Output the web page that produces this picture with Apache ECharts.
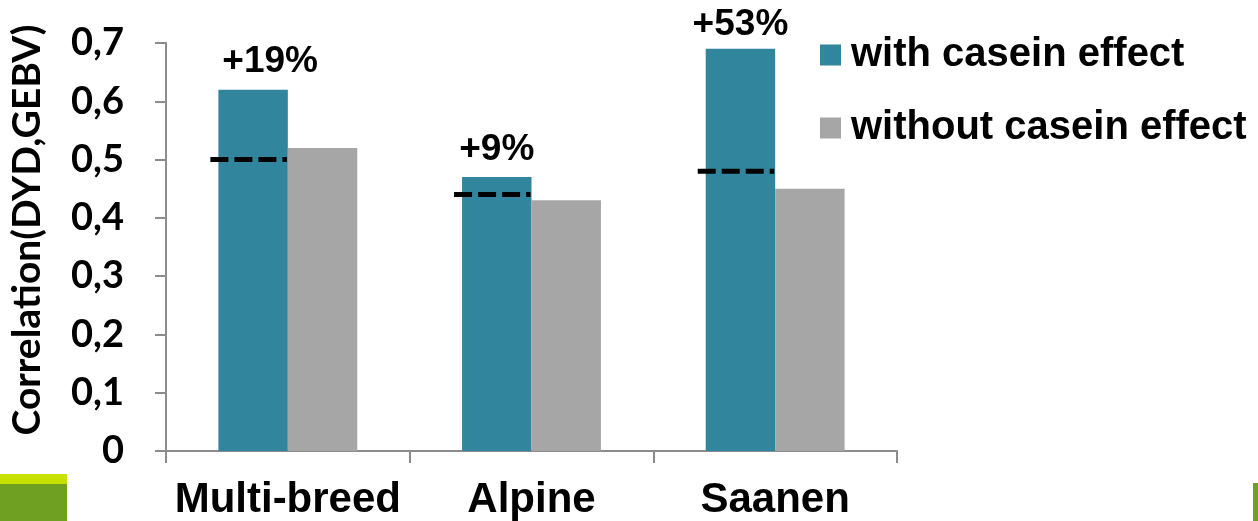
<!DOCTYPE html>
<html>
<head>
<meta charset="utf-8">
<script src="https://cdn.jsdelivr.net/npm/echarts@6/dist/echarts.min.js"></script>
<style>
  html, body { margin: 0; padding: 0; background: #ffffff; }
  #chart { width: 1258px; height: 521px; }
</style>
</head>
<body>
<div id="chart"></div>
<script>
// Breeds on the x axis
const breeds = ['Multi-breed', 'Alpine', 'Saanen'];
// Correlation between DYD and GEBV
const withCasein = [0.62, 0.47, 0.69];
const withoutCasein = [0.52, 0.43, 0.45];
// Reference level marked by the dashed line on each teal bar
const referenceLevel = [0.50, 0.44, 0.48];
// Y axis ticks
const yTicks = [0, 0.1, 0.2, 0.3, 0.4, 0.5, 0.6, 0.7];

const seriesNames = ['with casein effect', 'without casein effect'];
const TEAL = '#31859c';
const GREY = '#a6a6a6';
const CAT_GAP = 0.43;

// Relative gain of the model with the casein effect, e.g. "+19%"
const gainText = withCasein.map((v, i) =>
  '+' + Math.round((v / withoutCasein[i] - 1) * 100) + '%');

const chart = echarts.init(document.getElementById('chart'), null, { renderer: 'canvas' });

const option = {
  backgroundColor: '#ffffff',
  animation: false,
  grid: { left: 164, right: 361, top: 43, bottom: 70, containLabel: false },
  legend: {
    data: seriesNames,
    orient: 'vertical',
    left: 820,
    top: 31,
    padding: 0,
    icon: 'rect',
    itemWidth: 21,
    itemHeight: 21,
    itemGap: 25,
    selectedMode: false,
    textStyle: {
      fontFamily: '"Liberation Sans", Arial, sans-serif',
      fontWeight: 'bold',
      fontSize: 40,
      lineHeight: 40,
      color: '#000000',
      padding: [8, 0, 0, 5]
    }
  },
  xAxis: {
    type: 'category',
    data: breeds,
    axisLine: { show: true, lineStyle: { color: '#8c8c8c', width: 2 } },
    axisTick: { show: true, length: 12, lineStyle: { color: '#8c8c8c', width: 2 } },
    axisLabel: {
      interval: 0,
      hideOverlap: false,
      margin: 28,
      fontFamily: '"Liberation Sans", Arial, sans-serif',
      fontWeight: 'bold',
      fontSize: 42,
      color: '#000000'
    },
    splitLine: { show: false }
  },
  yAxis: {
    type: 'value',
    min: 0,
    max: 0.7,
    interval: 0.1,
    name: 'Correlation(DYD,GEBV)',
    nameLocation: 'middle',
    nameGap: 119,
    nameTextStyle: {
      fontFamily: 'Lato, "Open Sans", sans-serif',
      fontWeight: 'bold',
      fontSize: 39,
      color: '#000000',
      padding: [0, 0, 0, 34]
    },
    axisLine: { show: true, lineStyle: { color: '#8c8c8c', width: 2 } },
    axisTick: { show: true, length: 11, lineStyle: { color: '#8c8c8c', width: 2 } },
    splitLine: { show: false },
    axisLabel: {
      margin: 42,
      fontFamily: 'Lato, "Open Sans", sans-serif',
      fontWeight: 'bold',
      fontSize: 38,
      color: '#000000',
      customValues: yTicks,
      formatter: v => String(Math.round(v * 10) / 10).replace('.', ',')
    }
  },
  series: [
    {
      name: seriesNames[0],
      type: 'bar',
      data: withCasein.map((v, i) => ({
        value: v,
        label: { offset: [i === 0 ? 17 : 0, i === 2 ? 3 : 0] }
      })),
      barGap: '0%',
      barCategoryGap: (CAT_GAP * 100) + '%',
      itemStyle: { color: TEAL },
      label: {
        show: true,
        position: 'top',
        distance: 9,
        formatter: p => gainText[p.dataIndex],
        fontFamily: '"Liberation Sans", Arial, sans-serif',
        fontWeight: 'bold',
        fontSize: 37,
        color: '#000000'
      }
    },
    {
      name: seriesNames[1],
      type: 'bar',
      data: withoutCasein,
      itemStyle: { color: GREY }
    },
    {
      // dashed reference level drawn across each teal bar
      name: 'reference',
      type: 'custom',
      data: referenceLevel.map((v, i) => [i, v]),
      encode: { x: 0, y: 1 },
      z: 5,
      renderItem: (params, api) => {
        const pt = api.coord([api.value(0), api.value(1)]);
        const catW = api.size([1, 0])[0];
        const barW = catW * (1 - CAT_GAP) / 2;
        const x1 = pt[0] - barW - 8;
        const x2 = pt[0] - 1;
        return {
          type: 'line',
          shape: { x1: x1, y1: pt[1], x2: x2, y2: pt[1] },
          style: { stroke: '#000000', lineWidth: 5, lineDash: [18, 6] }
        };
      }
    }
  ],
  graphic: [
    { type: 'rect', left: 0, top: 474, shape: { width: 67, height: 10 }, style: { fill: '#c8e000' }, silent: true },
    { type: 'rect', left: 0, top: 484, shape: { width: 67, height: 37 }, style: { fill: '#6fa021' }, silent: true },
    { type: 'rect', left: 1253, top: 483, shape: { width: 5, height: 38 }, style: { fill: '#6fa021' }, silent: true }
  ]
};

chart.setOption(option);
</script>
</body>
</html>
